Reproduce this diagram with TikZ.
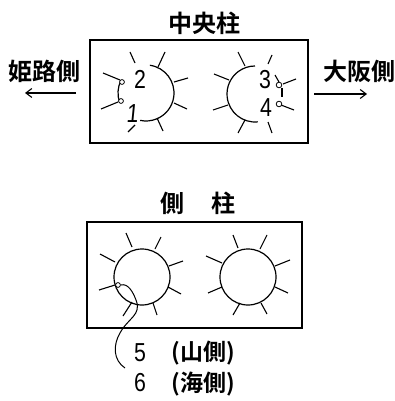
\documentclass[tikz,border=0pt]{standalone}
\usepackage{fontspec}
\setmainfont{Liberation Sans}
\newfontfamily\cjk{Noto Sans CJK JP Bold}
\usetikzlibrary{arrows.meta}
\tikzset{
  ln/.style={line width=1.2pt,black},
  spoke/.style={line width=1.1pt,black},
  boxframe/.style={line width=1.4pt,black},
  ringmark/.style={line width=0.8pt,black,fill=white},
  hd/.style={inner sep=0pt,font=\cjk\fontsize{24}{24}\selectfont},
  sub/.style={inner sep=0pt,font=\cjk\fontsize{23}{23}\selectfont},
  dig/.style={inner sep=0pt,xscale=.82,font=\fontsize{26}{26}\selectfont},
  arr/.style={line width=1.1pt,-{Straight Barb[length=6pt,width=9pt]}}
}
\begin{document}
\begin{tikzpicture}[x=1pt,y=-1pt]
\useasboundingbox (0,0) rectangle (395,401);
% headings
\node[hd] (top) at (204,23) {中央柱};
\node[hd] (hleft) at (45,71) {姫路側};
\node[hd] (hright) at (359,71) {大阪側};
\node[hd] (side1) at (172,203) {側};
\node[hd] (side2) at (223,203) {柱};
% arrows
\coordinate (al0) at (76,93); \coordinate (al1) at (25,93);
\coordinate (ar0) at (314,94); \coordinate (ar1) at (367,94);
\draw[arr] (al0) -- (al1);
\draw[arr] (ar0) -- (ar1);
% boxes
\draw[boxframe] (90,40) rectangle (308,143);
\draw[boxframe] (87,222) rectangle (302,328);
% top left circle
\draw[ln] (146,93) ++(-82:28) arc (-82:102:28);
\draw[ln] (146,93) ++(160:28) arc (160:207:28);
\foreach \a/\b/\c/\d in {130/52/135/63,165/52/158/67,188/78/174/82,187/109/174/103,163/131/157/118,135/125/128/132,101/109/118/102,103/73/120/80}
  \draw[spoke] (\a,\b) -- (\c,\d);
\draw[ringmark] (122,82) circle (2.4);
\draw[ringmark] (121,101) circle (2.4);
\node[dig] (n2) at (140,79) {2};
\node[dig,xslant=.12] (n1) at (133,114) {1};
% top right circle
\draw[ln] (255,94) ++(84:28) arc (84:270:28);
\foreach \a/\b/\c/\d in {238/52/245/66,214/74/229/80,213/110/228/105,238/133/245/120,268/122/272/133,272/55/268/64,296/79/283/84,294/110/281/105,275/75/279/82}
  \draw[spoke] (\a,\b) -- (\c,\d);
\draw[spoke] (282,88) -- (282,97);
\draw[ringmark] (279,85) circle (2.8);
\draw[ringmark] (279,104) circle (2.8);
\node[dig] (n3) at (265,80) {3};
\node[dig] (n4) at (266,108) {4};
% bottom circles
\draw[ln] (142,277) circle (28);
\draw[ln] (248,277) circle (28);
\foreach \a/\b/\c/\d in {126/233/132/247,161/237/155/249,183/261/169/266,181/294/168/287,157/315/153/303,123/316/132/302,99/290/115/285,100/254/115/262,
233/235/238/248,267/235/260/249,290/260/275/266,288/293/275/287,267/314/261/303,233/315/240/303,208/293/222/287,206/256/222/263}
  \draw[spoke] (\a,\b) -- (\c,\d);
\draw[ringmark] (118,285) circle (2.4);
% leader
\coordinate (lead0) at (125,368);
\coordinate (lead1) at (121,285);
\draw[line width=1pt] (lead0) .. controls (113,360) and (113,345) .. (120,333) .. controls (128,318) and (142,315) .. (136,300) .. controls (133,292) and (128,283) .. (lead1);
% labels
\node[dig] (n5) at (140,353) {5};
\node[sub] (l5) at (203,353) {(山側)};
\node[dig] (n6) at (140,383) {6};
\node[sub] (l6) at (203,384) {(海側)};
\end{tikzpicture}
\end{document}
